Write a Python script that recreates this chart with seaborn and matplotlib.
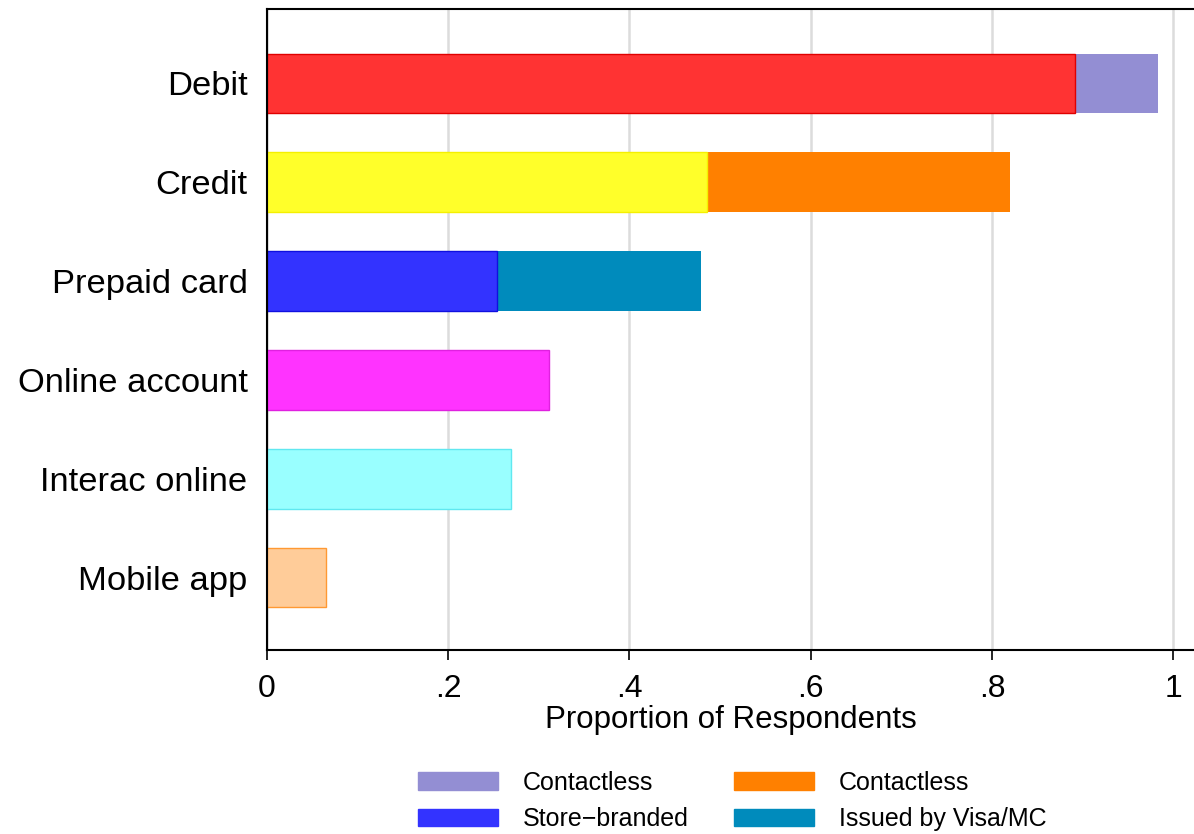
import matplotlib
matplotlib.use("Agg")
import matplotlib.pyplot as plt
import seaborn as sns
import pandas as pd
from matplotlib.patches import Patch

# ---- data ----
categories = ["Debit", "Credit", "Prepaid card", "Online account", "Interac online", "Mobile app"]
base_values = [0.892, 0.486, 0.254, 0.311, 0.269, 0.065]
extra_values = [0.091, 0.334, 0.225, 0.0, 0.0, 0.0]
base_colors = ["#FF3333", "#FFFF2A", "#3333FF", "#FF33FF", "#99FFFF", "#FFCC99"]
base_edges = ["#E00000", "#F5F000", "#1010E0", "#E020E0", "#60E8F0", "#FF9933"]
extra_colors = ["#938ED3", "#FF8000", "#008BBC", "#FF33FF", "#99FFFF", "#FFCC99"]
legend_labels = ["Contactless", "Store\u2212branded", "Contactless", "Issued by Visa/MC"]
legend_colors = ["#938ED3", "#3333FF", "#FF8000", "#008BBC"]
x_ticks = [0, 0.2, 0.4, 0.6, 0.8, 1.0]
x_tick_labels = ["0", ".2", ".4", ".6", ".8", "1"]

df = pd.DataFrame({
    "category": categories,
    "base": base_values,
    "total": [b + e for b, e in zip(base_values, extra_values)],
})

sns.set_style("white")
plt.rcParams["font.family"] = ["Liberation Sans", "DejaVu Sans"]
plt.rcParams["text.color"] = "black"
plt.rcParams["axes.labelcolor"] = "black"
plt.rcParams["xtick.color"] = "black"
plt.rcParams["ytick.color"] = "black"

fig = plt.figure(figsize=(11.94, 8.34), dpi=100)
ax = fig.add_axes([0.2236, 0.2206, 0.7764, 0.7686])

# totals (top segment colour), then base segments drawn over them
sns.barplot(data=df, y="category", x="total", hue="category",
            palette=dict(zip(categories, extra_colors)), order=categories,
            hue_order=categories, width=0.6, legend=False, ax=ax,
            linewidth=0, saturation=1)
n_tot = len(ax.patches)
sns.barplot(data=df, y="category", x="base", hue="category",
            palette=dict(zip(categories, base_colors)), order=categories,
            hue_order=categories, width=0.6, legend=False, ax=ax,
            linewidth=1.0, saturation=1)
for p, ec in zip(ax.patches[n_tot:], base_edges):
    p.set_edgecolor(ec)

ax.set_xlim(0, 1.023)
ax.set_ylim(5.73, -0.75)
ax.set_xticks(x_ticks)
ax.set_xticklabels(x_tick_labels, fontsize=23)
ax.tick_params(axis="x", length=7, width=1.2, color="black", pad=10, direction="out",
               bottom=True, labelcolor="black")
ax.tick_params(axis="y", length=0, pad=14, labelsize=24.8, labelcolor="black")
ax.set_ylabel("")
ax.set_xlabel("Proportion of Respondents", fontsize=22.5, labelpad=1, color="black")
ax.xaxis.grid(True, color="#DCDCDC", linewidth=1.8)
ax.set_axisbelow(True)
for s in ["left", "top", "bottom"]:
    ax.spines[s].set_visible(True)
    ax.spines[s].set_color("black")
    ax.spines[s].set_linewidth(1.5)
ax.spines["right"].set_visible(False)

handles = [Patch(facecolor=c, edgecolor=c) for c in legend_colors]
leg = fig.legend(handles, legend_labels, ncol=2, loc="center", bbox_to_anchor=(0.613, 0.0395),
                 frameon=False, fontsize=18, handlelength=3.2, handleheight=0.7,
                 handletextpad=1.0, columnspacing=1.8, labelspacing=0.5)
for t in leg.get_texts():
    t.set_color("black")

fig.savefig("out.png", dpi=100)
